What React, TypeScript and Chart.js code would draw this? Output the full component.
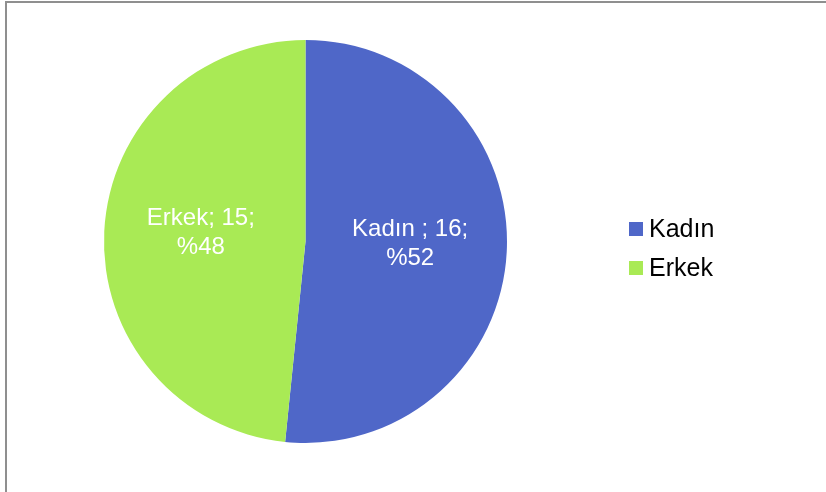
import React, { useEffect, useRef } from "react";
import { Chart, registerables } from "chart.js";

Chart.register(...registerables);

const categories = ["Kadın", "Erkek"];
const values = [16, 15];
const percentLabels = ["%52", "%48"];
const sliceLabels = ["Kadın ; 16;", "Erkek; 15;"];
const colors = ["#4F67C8", "#A9EA55"];

const FONT = "Arial, 'Liberation Sans', sans-serif";

const labelPlugin = {
  id: "sliceLabels",
  afterDatasetsDraw(chart: any) {
    const ctx = chart.ctx;
    const meta = chart.getDatasetMeta(0);
    ctx.save();
    ctx.fillStyle = "#ffffff";
    ctx.font = `24px ${FONT}`;
    ctx.textAlign = "center";
    ctx.textBaseline = "middle";
    meta.data.forEach((arc: any, i: number) => {
      const { x, y, startAngle, endAngle, outerRadius } = arc.getProps(
        ["x", "y", "startAngle", "endAngle", "outerRadius"],
        true
      );
      const mid = (startAngle + endAngle) / 2;
      const r = outerRadius * 0.52;
      const cx = x + Math.cos(mid) * r;
      const cy = y + Math.sin(mid) * r - 3.5;
      ctx.fillText(sliceLabels[i], cx, cy - 14);
      ctx.fillText(percentLabels[i], cx, cy + 15);
    });
    ctx.restore();
  },
};

const legendPlugin = {
  id: "customLegend",
  afterDraw(chart: any) {
    const ctx = chart.ctx;
    ctx.save();
    ctx.font = `25px ${FONT}`;
    ctx.textBaseline = "alphabetic";
    ctx.textAlign = "left";
    const baseX = 629;
    const rows = [222, 261];
    chart.data.labels.forEach((lbl: string, i: number) => {
      const top = rows[i];
      ctx.fillStyle = chart.data.datasets[0].backgroundColor[i];
      ctx.fillRect(baseX, top, 14, 14);
      ctx.fillStyle = "#000000";
      ctx.fillText(lbl, baseX + 20, top + 15);
    });
    ctx.restore();
  },
};

export default function App() {
  const ref = useRef<HTMLCanvasElement | null>(null);
  useEffect(() => {
    if (!ref.current) return;
    const chart = new Chart(ref.current, {
      type: "pie",
      data: {
        labels: categories,
        datasets: [
          {
            data: values,
            backgroundColor: colors,
            borderWidth: 0,
          },
        ],
      },
      options: {
        animation: false,
        responsive: false,
        maintainAspectRatio: false,
        layout: { padding: { left: 104, right: 319, top: 40, bottom: 49 } },
        plugins: {
          legend: { display: false },
          tooltip: { enabled: false },
        },
      },
      plugins: [labelPlugin, legendPlugin],
    });
    return () => chart.destroy();
  }, []);
  return (
    <div style={{ position: "fixed", left: 0, top: 0, width: 826, height: 492, background: "#fff", overflow: "hidden" }}>
      <div
        style={{
          position: "absolute",
          left: 5,
          top: 1,
          width: 900,
          height: 600,
          borderLeft: "2px solid #8f8f8f",
          borderTop: "2px solid #8f8f8f",
        }}
      />
      <canvas ref={ref} width={826} height={492} style={{ position: "absolute", left: 0, top: 0, width: 826, height: 492 }} />
    </div>
  );
}
